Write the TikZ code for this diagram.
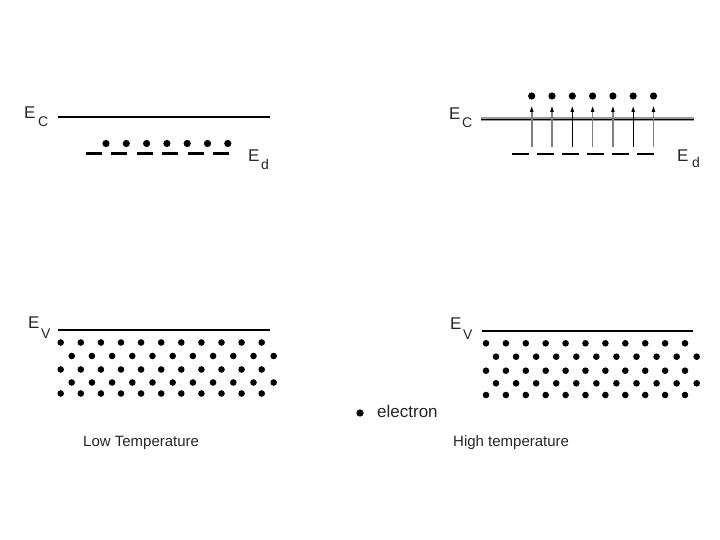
\documentclass[tikz,border=0pt]{standalone}
\usepackage{fontspec}
\setmainfont{Liberation Sans}
\usetikzlibrary{arrows.meta}
\begin{document}
\begin{tikzpicture}[x=1pt,y=-1pt,
  level/.style={line width=2pt},
  donor/.style={line width=2.5pt},
  el/.style={circle,fill=black,inner sep=0pt,minimum size=7.2pt},
  lab/.style={font=\fontsize{17}{17}\selectfont, inner sep=0pt, text=black!85},
  sublab/.style={font=\fontsize{14}{14}\selectfont, inner sep=0pt, text=black!85},
  txt/.style={font=\fontsize{15}{15}\selectfont, inner sep=0pt, text=black!85},
  shaft/.style={line cap=butt}]
\useasboundingbox (0,0) rectangle (720,540);

% ---------- Left: low temperature ----------
\coordinate (lc1) at (58,117); \coordinate (lc2) at (270,117);
\draw[level] (lc1) -- (lc2);
\node[lab,anchor=base west] (lEC) at (24,119) {E};
\node[sublab,anchor=base west] (lECs) at (38,127) {C};

\foreach \i in {0,...,5} {
  \coordinate (ld\i a) at ({86+25.4*\i},153.5);
  \coordinate (ld\i b) at ({102+25.4*\i},153.5);
  \draw[donor] (ld\i a) -- (ld\i b);
}
\foreach \i in {0,...,6} {
  \node[el] (le\i) at ({106+20.3*\i},143.5) {};
}
\node[lab,anchor=base west] (lEd) at (248,162) {E};
\node[sublab,anchor=base west] (lEds) at (261,170) {d};

% valence left
\coordinate (lv1) at (58,330); \coordinate (lv2) at (270,330);
\draw[level] (lv1) -- (lv2);
\node[lab,anchor=base west] (lEV) at (28,328) {E};
\node[sublab,anchor=base west] (lEVs) at (41,338) {V};
\foreach \y in {342.5,369.5,393.5} {
  \foreach \i in {0,...,10} { \fill ({60.7+20.1*\i},\y) circle (3.3pt); }
}
\foreach \y in {356,382.5} {
  \foreach \i in {0,...,10} { \fill ({71.7+20.2*\i},\y) circle (3.3pt); }
}

% ---------- Right: high temperature ----------
\coordinate (rc1) at (481,119.5); \coordinate (rc2) at (694,119.5);
\draw[line width=4pt, black!40] (rc1) -- (rc2);
\draw[line width=1.2pt, black] (rc1) -- (rc2);
\node[lab,anchor=base west] (rEC) at (449,120) {E};
\node[sublab,anchor=base west] (rECs) at (462,128) {C};

\foreach \i in {0,...,5} {
  \coordinate (rd\i a) at ({511.7+25.1*\i},154);
  \coordinate (rd\i b) at ({528.7+25.1*\i},154);
  \draw[donor] (rd\i a) -- (rd\i b);
}
\foreach \i/\c/\w in {0/black!50/1.6pt,1/black!50/1.4pt,2/black/0.8pt,3/black!50/1.6pt,4/black!50/1.4pt,5/black/0.8pt,6/black!50/1.4pt} {
  \node[el] (re\i) at ({531.7+20.3*\i},96) {};
  \coordinate (ra\i) at ({531.7+20.3*\i},147);
  \coordinate (rb\i) at ({531.7+20.3*\i},106.5);
  \draw[shaft, draw=\c, line width=\w] (ra\i) -- ([yshift=-4pt]rb\i);
  \fill[black] (rb\i) -- ++(-1.9,5.5) -- ++(3.8,0) -- cycle;
}
\node[lab,anchor=base west] (rEd) at (677,162) {E};
\node[sublab,anchor=base west] (rEds) at (692,168) {d};

% valence right
\coordinate (rv1) at (482,331); \coordinate (rv2) at (693,331);
\draw[level] (rv1) -- (rv2);
\node[lab,anchor=base west] (rEV) at (450,329) {E};
\node[sublab,anchor=base west] (rEVs) at (463,339) {V};
\foreach \y in {343.3,370.7,395} {
  \foreach \i in {0,...,10} { \fill ({486+19.9*\i},\y) circle (3.3pt); }
}
\foreach \y in {356.7,383.3} {
  \foreach \i in {0,...,10} { \fill ({496+20.07*\i},\y) circle (3.3pt); }
}

% ---------- Legend and captions ----------
\node[el] (legdot) at (360,413) {};
\node[anchor=west, inner sep=0pt, font=\fontsize{17}{17}\selectfont, text=black!85] (legtxt) at (377,411.5) {electron};
\node[txt,anchor=west] (low) at (83,443) {Low Temperature};
\node[txt,anchor=west] (high) at (453,443) {High temperature};
\end{tikzpicture}
\end{document}
